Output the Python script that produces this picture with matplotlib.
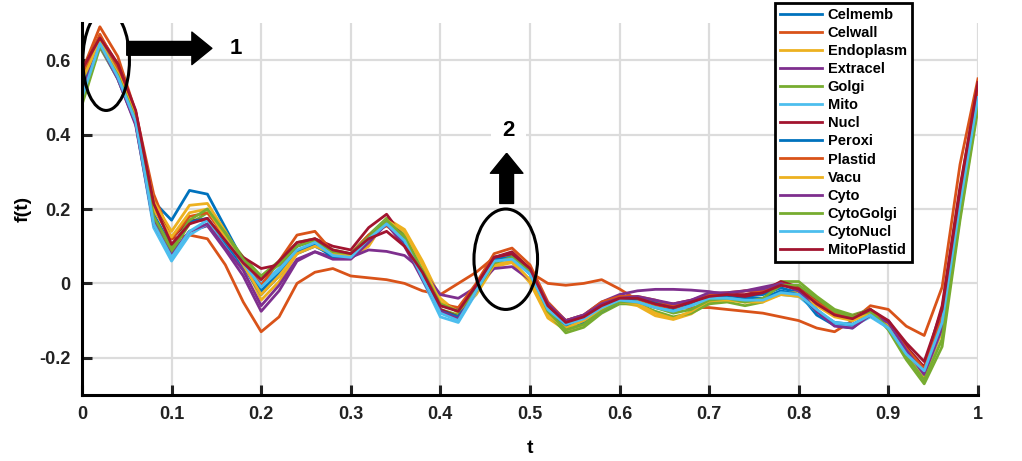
import numpy as np
import matplotlib.pyplot as plt
from matplotlib.patches import Ellipse

plt.rcParams['font.family'] = ['Liberation Sans', 'DejaVu Sans']
plt.rcParams['font.weight'] = 'bold'

t = np.round(np.arange(0, 1.0001, 0.02), 2)

names = ["Celmemb", "Celwall", "Endoplasm", "Extracel", "Golgi", "Mito", "Nucl",
         "Peroxi", "Plastid", "Vacu", "Cyto", "CytoGolgi", "CytoNucl", "MitoPlastid"]

celmemb = [.53, .65, .56, .44, .22, .17, .25, .24, .15, .06, -.02, .03, .08, .10, .075, .075, .12,
           .165, .11, .02, -.06, -.07, -.01, .065, .065, .03, -.065, -.11, -.095, -.065, -.045, -.045,
           -.06, -.07, -.055, -.035, -.035, -.035, -.03, -.012, -.025, -.085, -.113, -.12, -.08, -.115,
           -.18, -.24, -.11, .22, .51]
celwall = [.57, .69, .61, .46, .24, .12, .13, .12, .05, -.05, -.13, -.09, .00, .03, .04, .02, .015,
           .01, .00, -.02, -.03, .00, .03, .07, .08, .03, .00, -.005, .00, .01, -.015, -.045, -.06,
           -.065, -.065, -.065, -.07, -.075, -.08, -.09, -.10, -.12, -.13, -.10, -.06, -.07, -.115,
           -.14, -.01, .32, .55]
endoplasm = [.545, .655, .57, .45, .22, .14, .21, .215, .14, .06, -.045, .005, .08, .11, .085, .07,
             .10, .175, .145, .06, -.04, -.08, -.03, .045, .056, .002, -.093, -.126, -.111, -.075,
             -.051, -.06, -.087, -.097, -.082, -.05, -.043, -.05, -.045, -.026, -.025, -.05, -.083,
             -.094, -.08, -.12, -.19, -.252, -.128, .208, .50]
extracel = [.52, .645, .55, .43, .17, .08, .14, .155, .09, .02, -.075, -.02, .06, .085, .07, .07, .09,
            .086, .075, .035, -.03, -.04, -.01, .04, .045, .01, -.07, -.10, -.085, -.05, -.03, -.02,
            -.016, -.016, -.018, -.022, -.03, -.02, -.01, .0, -.02, -.07, -.11, -.115, -.085, -.10,
            -.17, -.235, -.10, .23, .52]
golgi = [.48, .635, .55, .43, .16, .085, .16, .19, .135, .07, .02, .06, .11, .12, .09, .08, .13, .175,
         .13, .03, -.07, -.085, -.02, .055, .075, .04, -.08, -.133, -.118, -.08, -.055, -.055, -.075,
         -.09, -.08, -.055, -.05, -.06, -.05, .005, .005, -.035, -.07, -.085, -.07, -.125, -.205,
         -.27, -.17, .17, .47]
mito = [.50, .64, .55, .43, .15, .06, .13, .16, .10, .045, .00, .04, .10, .115, .08, .075, .125, .17,
        .12, .01, -.09, -.105, -.025, .06, .07, .03, -.07, -.115, -.10, -.07, -.05, -.05, -.065,
        -.075, -.06, -.04, -.04, -.045, -.045, -.03, -.035, -.075, -.11, -.115, -.09, -.12, -.19,
        -.245, -.12, .20, .50]
nucl = [.57, .665, .59, .46, .21, .12, .17, .17, .12, .07, .04, .05, .10, .12, .10, .09, .15, .186,
        .12, .02, -.07, -.09, -.02, .07, .085, .04, -.06, -.10, -.09, -.06, -.04, -.04, -.05, -.055,
        -.045, -.03, -.03, -.03, -.02, .005, -.01, -.045, -.08, -.09, -.07, -.105, -.17, -.225, -.06,
        .26, .53]
peroxi = [.54, .655, .565, .445, .185, .10, .165, .175, .11, .045, -.03, .02, .085, .105, .07, .07,
          .115, .16, .105, .015, -.075, -.09, -.015, .065, .07, .025, -.075, -.115, -.105, -.075,
          -.05, -.04, -.05, -.065, -.05, -.03, -.03, -.04, -.04, -.02, -.03, -.075, -.105, -.11,
          -.085, -.115, -.18, -.235, -.10, .23, .51]
plastid = [.56, .67, .58, .455, .20, .12, .18, .19, .125, .06, -.005, .06, .13, .14, .085, .08, .13,
           .155, .12, .03, -.055, -.065, .00, .08, .095, .05, -.05, -.10, -.085, -.05, -.035, -.035,
           -.045, -.06, -.05, -.03, -.025, -.02, -.02, .0, -.015, -.05, -.08, -.09, -.075, -.11,
           -.175, -.23, -.09, .24, .52]
vacu = [.545, .65, .565, .45, .20, .125, .19, .20, .125, .05, -.03, .02, .08, .10, .08, .075, .105,
        .17, .14, .05, -.05, -.075, -.025, .05, .06, .01, -.085, -.12, -.10, -.07, -.05, -.055, -.08,
        -.095, -.075, -.045, -.045, -.05, -.05, -.03, -.035, -.06, -.09, -.10, -.08, -.115, -.185,
        -.245, -.115, .21, .50]
cyto = [.51, .64, .55, .425, .16, .075, .14, .16, .095, .035, -.06, -.005, .065, .085, .065, .065,
        .11, .16, .10, .01, -.075, -.095, -.02, .07, .08, .035, -.055, -.10, -.085, -.055, -.04,
        -.035, -.045, -.055, -.045, -.025, -.025, -.02, -.015, .0, -.02, -.075, -.115, -.12, -.085,
        -.105, -.18, -.245, -.12, .20, .50]
cytogolgi = [.49, .64, .56, .44, .18, .095, .17, .20, .135, .065, .015, .05, .10, .115, .085, .08,
             .125, .17, .125, .035, -.055, -.075, -.02, .055, .07, .035, -.075, -.125, -.11, -.075,
             -.05, -.05, -.065, -.08, -.07, -.045, -.04, -.05, -.04, -.005, -.005, -.04, -.075, -.09,
             -.075, -.12, -.195, -.26, -.15, .18, .48]
cytonucl = [.50, .645, .555, .435, .16, .07, .14, .17, .115, .055, -.01, .035, .09, .11, .075, .07,
            .12, .16, .115, .015, -.08, -.10, -.02, .06, .065, .025, -.07, -.11, -.095, -.065, -.045,
            -.05, -.065, -.075, -.06, -.04, -.04, -.045, -.045, -.025, -.03, -.07, -.105, -.11,
            -.085, -.12, -.19, -.235, -.105, .215, .50]
mitoplastid = [.575, .66, .59, .465, .215, .105, .16, .175, .115, .055, .01, .06, .11, .12, .09, .08,
               .12, .14, .10, .03, -.06, -.075, -.005, .07, .08, .04, -.06, -.105, -.09, -.06, -.04,
               -.04, -.055, -.065, -.05, -.035, -.03, -.035, -.025, -.005, -.015, -.055, -.085,
               -.095, -.07, -.10, -.16, -.21, -.07, .25, .54]

series = [celmemb, celwall, endoplasm, extracel, golgi, mito, nucl,
          peroxi, plastid, vacu, cyto, cytogolgi, cytonucl, mitoplastid]

colors = ['#0072BD', '#D95319', '#EDB120', '#7E2F8E', '#77AC30', '#4DBEEE', '#A2142F'] * 2

fig = plt.figure(figsize=(10.22, 4.61), dpi=100)
ax = fig.add_axes([0.0802, 0.1432, 0.8767, 0.8068])

for name, y, c in zip(names, series, colors):
    ax.plot(t, y, color=c, lw=2.0, label=name, solid_joinstyle='round')

ax.set_xlim(0, 1)
ax.set_ylim(-0.3, 0.7)
ax.set_xticks(np.arange(0, 1.01, 0.1))
ax.set_xticklabels(['0', '0.1', '0.2', '0.3', '0.4', '0.5', '0.6', '0.7', '0.8', '0.9', '1'])
ax.set_yticks([-0.2, 0, 0.2, 0.4, 0.6])
ax.set_yticklabels(['-0.2', '0', '0.2', '0.4', '0.6'])
ax.grid(True, color='#dcdcdc', lw=1.6)
ax.set_axisbelow(True)
for s in ['top', 'right']:
    ax.spines[s].set_visible(False)
for s in ['left', 'bottom']:
    ax.spines[s].set_linewidth(2.2)
ax.tick_params(direction='in', length=7, width=2.2, labelsize=13, colors='#222222', pad=8)
ax.set_xlabel('t', fontsize=14, fontweight='bold', labelpad=12)
ax.set_ylabel('f(t)', fontsize=14, fontweight='bold', labelpad=6)

# annotations
ax.add_patch(Ellipse((0.027, 0.60), 0.052, 0.27, fill=False, ec='black', lw=2.2, zorder=5))
ax.annotate('', xy=(0.145, 0.632), xytext=(0.05, 0.632),
            arrowprops=dict(arrowstyle='simple,head_width=1.3,head_length=0.8,tail_width=0.55',
                            color='black', mutation_scale=18, shrinkA=0, shrinkB=0))
ax.text(0.172, 0.632, '1', fontsize=16, fontweight='bold', ha='center', va='center')

ax.add_patch(Ellipse((0.473, 0.065), 0.071, 0.27, fill=False, ec='black', lw=2.2, zorder=5))
ax.annotate('', xy=(0.474, 0.35), xytext=(0.474, 0.215),
            arrowprops=dict(arrowstyle='simple,head_width=1.3,head_length=0.8,tail_width=0.55',
                            color='black', mutation_scale=18, shrinkA=0, shrinkB=0))
ax.text(0.476, 0.41, '2', fontsize=16, fontweight='bold', ha='center', va='center',
        bbox=dict(facecolor='white', edgecolor='none', pad=8))

leg = ax.legend(loc='upper right', bbox_to_anchor=(0.892, 0.994), bbox_transform=fig.transFigure,
                fontsize=10.5, handlelength=2.9, handletextpad=0.35, labelspacing=0.28,
                borderpad=0.35, borderaxespad=0, fancybox=False, framealpha=1)
leg.get_frame().set_edgecolor('black')
leg.get_frame().set_linewidth(2)

fig.savefig('out.png', dpi=100)
